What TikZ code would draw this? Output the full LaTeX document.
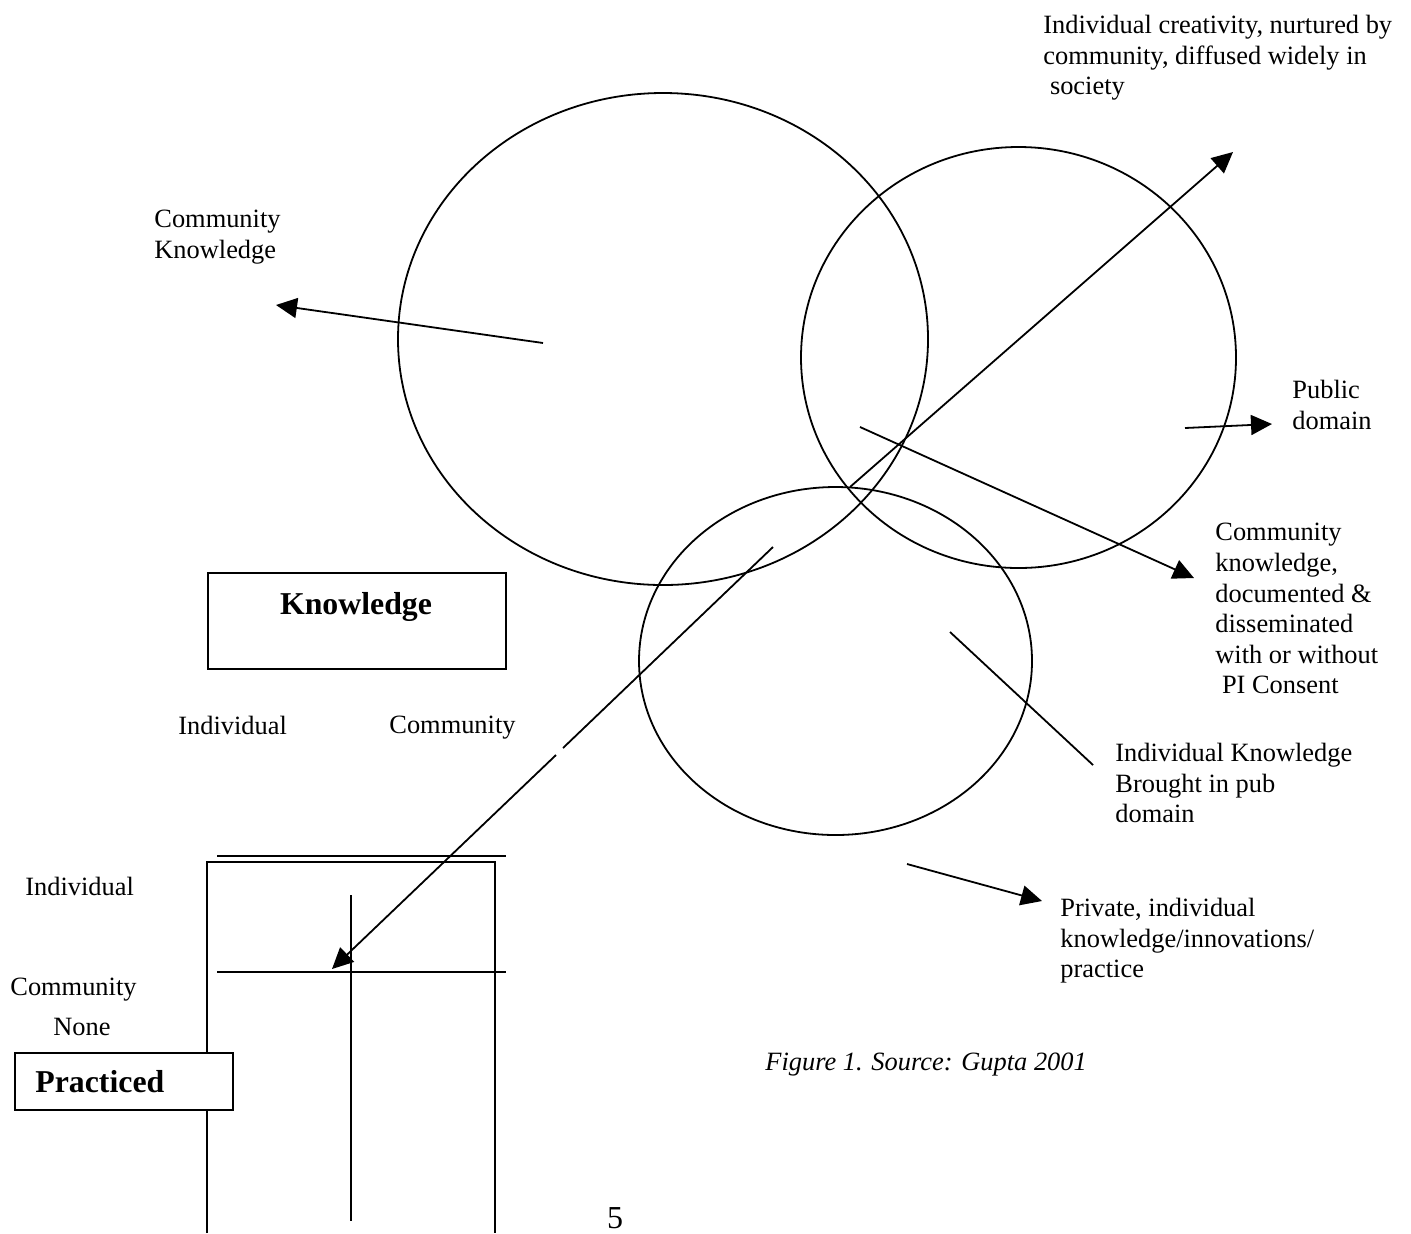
\documentclass[tikz,border=0pt]{standalone}
\usepackage{fontspec}
\setmainfont{Liberation Serif}
\usetikzlibrary{arrows.meta}
\begin{document}
\begin{tikzpicture}[x=0.5pt,y=-0.5pt,
  lbl/.style={anchor=north west, inner sep=0pt, align=left, font=\fontsize{13.2}{15.3}\selectfont},
  bold/.style={anchor=north west, inner sep=0pt, font=\fontsize{15.9}{18}\selectfont\bfseries},
  ln/.style={line width=0.9pt},
  arr/.style={line width=0.9pt, -{Triangle[length=10.5pt,width=10pt]}},
  bx/.style={draw, line width=0.9pt, fill=white, inner sep=0pt, anchor=north west}]
\useasboundingbox (0,0) rectangle (1411,1233);

% circles
\draw[ln] (663,339) ellipse [x radius=265, y radius=246];
\draw[ln] (1018.5,357.5) ellipse [x radius=217.5, y radius=210.5];
\draw[ln] (835.5,661) ellipse [x radius=196.5, y radius=174];

% connector end points
\coordinate (ckS) at (543,343);   \coordinate (ckE) at (276,305);
\coordinate (icS) at (850,487);   \coordinate (icE) at (1233,152);
\coordinate (dlS) at (773,547);   \coordinate (dlG1) at (563,748);
\coordinate (dlG2) at (556,755);  \coordinate (dlE) at (332,969);
\coordinate (cdS) at (860,427);   \coordinate (cdE) at (1194,578);
\coordinate (pdS) at (1185,428);  \coordinate (pdE) at (1272,424);
\coordinate (ikS) at (950,632);   \coordinate (ikE) at (1093,765);
\coordinate (pvS) at (907,864);   \coordinate (pvE) at (1042,901);

\draw[arr] (ckS) -- (ckE);
\draw[arr] (icS) -- (icE);
\draw[ln] (dlS) -- (dlG1);
\draw[arr] (dlG2) -- (dlE);
\draw[arr] (cdS) -- (cdE);
\draw[arr] (pdS) -- (pdE);
\draw[ln] (ikS) -- (ikE);
\draw[arr] (pvS) -- (pvE);

% labels
\node[lbl] (t1) at (1043,15) {Individual creativity, nurtured by\\community, diffused widely in\\\hspace*{0.25em}society};
\node[lbl] (t2) at (154,210) {Community\\Knowledge};
\node[lbl] (t3) at (1292,380) {Public\\domain};
\node[lbl] (t4) at (1215,523) {Community\\knowledge,\\documented \&\\disseminated\\with or without\\\hspace*{0.25em}PI Consent};
\node[lbl] (t5) at (1115,743) {Individual Knowledge\\Brought in pub\\domain};
\node[lbl] (t6) at (1060,898) {Private, individual\\knowledge/innovations/\\practice};

% Knowledge box
\node[bx, minimum width=149pt, minimum height=48pt] (kbox) at (207,572) {};
\node[bold, anchor=north] (ktext) at (356,592) {Knowledge};
\node[lbl] (kind) at (178,716) {Individual};
\node[lbl] (kcom) at (389,716) {Community};

% table
\draw[ln] (217,856) -- (506,856);
\draw[ln] (207,1233) -- (207,862) -- (495,862) -- (495,1233);
\draw[ln] (217,972) -- (506,972);
\draw[ln] (351,895) -- (351,1221);

\node[lbl] (pind) at (25,877) {Individual};
\node[lbl] (pcom) at (10,978) {Community};
\node[lbl] (pnone) at (53,1018) {None};
\node[bx, minimum width=109pt, minimum height=28.5pt] (pbox) at (14,1052) {};
\node[bold] (ptext) at (35,1070) {Practiced};

% caption and page number
\node[lbl, font=\fontsize{13.2}{15.3}\selectfont\itshape] (cap) at (765,1053) {Figure 1. Source: Gupta 2001};
\node[inner sep=0pt, anchor=base, font=\fontsize{16}{18}\selectfont] (pg) at (615,1228) {5};
\end{tikzpicture}
\end{document}
